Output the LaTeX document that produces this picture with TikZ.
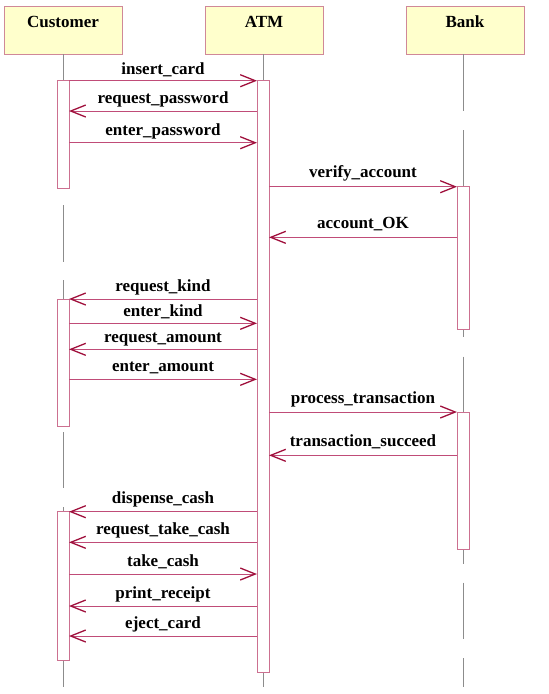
\documentclass[tikz,border=0pt]{standalone}
\usepackage{fontspec}
\setmainfont{Liberation Serif}
\usetikzlibrary{arrows.meta}
\definecolor{boxfill}{HTML}{FFFFCC}
\definecolor{boxline}{HTML}{D08898}
\definecolor{actline}{HTML}{CC7090}
\definecolor{msgline}{HTML}{C04C78}
\definecolor{msghead}{HTML}{A0103C}
\definecolor{lifegray}{HTML}{8C8C8C}
\tikzset{
  actor/.style={draw=boxline, fill=boxfill, line width=1pt, minimum width=118pt, minimum height=48pt, inner sep=0pt, outer sep=0pt},
  actortext/.style={font=\fontsize{17}{19}\selectfont\bfseries, anchor=base},
  act/.style={draw=actline, fill=white, line width=1pt, minimum width=12pt, inner sep=0pt, outer sep=0pt},
  life/.style={draw=lifegray, line width=1pt},
  msg/.style={draw=msgline, line width=1pt, -{Straight Barb[length=15pt,width=12pt,line width=1.3pt,color=msghead]}},
  lbl/.style={font=\fontsize{17}{19}\selectfont\bfseries, anchor=base, inner sep=0pt}
}
\begin{document}
\begin{tikzpicture}[x=1pt,y=-1pt]
\useasboundingbox (0,0) rectangle (549,694);
% actors
\node[actor] (cust) at (63,30) {};
\node[actor] (atm) at (264,30) {};
\node[actor] (bank) at (465,30) {};
\node[actortext] (custT) at (63,27) {Customer};
\node[actortext] (atmT) at (264,27) {ATM};
\node[actortext] (bankT) at (465,27) {Bank};
% lifeline coordinates
\foreach \n/\x in {c/63, a/263, b/463}{
  \coordinate (\n top) at (\x,54);
  \coordinate (\n bot) at (\x,686.7);
}
% lifelines (with gaps)
\draw[life] (ctop) -- (63,80.7);
\draw[life] (63,205) -- (63,261.7);
\draw[life] (63,280) -- (63,299);
\draw[life] (63,432.3) -- (63,488.3);
\draw[life] (63,507.3) -- (63,511.7);
\draw[life] (63,660) -- (cbot);
\draw[life] (atop) -- (263,80.7);
\draw[life] (263,672.7) -- (abot);
\draw[life] (btop) -- (463,111);
\draw[life] (463,130) -- (463,186.7);
\draw[life] (463,329) -- (463,337);
\draw[life] (463,356.7) -- (463,412);
\draw[life] (463,549.3) -- (463,564);
\draw[life] (463,582.7) -- (463,639.3);
\draw[life] (463,658.3) -- (bbot);
% activations
\node[act, minimum height=107.6pt] (C1) at (63,134.5) {};
\node[act, minimum height=127.7pt] (C2) at (63,362.85) {};
\node[act, minimum height=148.3pt] (C3) at (63,585.85) {};
\node[act, minimum height=592pt] (A1) at (263,376.7) {};
\node[act, minimum height=142.3pt] (B1) at (463,257.85) {};
\node[act, minimum height=137.3pt] (B2) at (463,480.65) {};
% messages
\draw[msg] (C1.east |- 0,80.7) -- node[lbl, yshift=6pt] (m1) {insert\_card} (A1.west |- 0,80.7);
\draw[msg] (A1.west |- 0,111) -- node[lbl, yshift=8pt] (m2) {request\_password} (C1.east |- 0,111);
\draw[msg] (C1.east |- 0,142.7) -- node[lbl, yshift=7pt] (m3) {enter\_password} (A1.west |- 0,142.7);
\draw[msg] (A1.east |- 0,186.7) -- node[lbl, yshift=9pt] (m4) {verify\_account} (B1.west |- 0,186.7);
\draw[msg] (B1.west |- 0,237.3) -- node[lbl, yshift=9pt] (m5) {account\_OK} (A1.east |- 0,237.3);
\draw[msg] (A1.west |- 0,299) -- node[lbl, yshift=8pt] (m6) {request\_kind} (C2.east |- 0,299);
\draw[msg] (C2.east |- 0,323.3) -- node[lbl, yshift=7pt] (m7) {enter\_kind} (A1.west |- 0,323.3);
\draw[msg] (A1.west |- 0,349.3) -- node[lbl, yshift=7pt] (m8) {request\_amount} (C2.east |- 0,349.3);
\draw[msg] (C2.east |- 0,379.3) -- node[lbl, yshift=8pt] (m9) {enter\_amount} (A1.west |- 0,379.3);
\draw[msg] (A1.east |- 0,412) -- node[lbl, yshift=9pt] (m10) {process\_transaction} (B2.west |- 0,412);
\draw[msg] (B2.west |- 0,455.3) -- node[lbl, yshift=9pt] (m11) {transaction\_succeed} (A1.east |- 0,455.3);
\draw[msg] (A1.west |- 0,511.7) -- node[lbl, yshift=8pt] (m12) {dispense\_cash} (C3.east |- 0,511.7);
\draw[msg] (A1.west |- 0,542.3) -- node[lbl, yshift=8pt] (m13) {request\_take\_cash} (C3.east |- 0,542.3);
\draw[msg] (C3.east |- 0,574) -- node[lbl, yshift=8pt] (m14) {take\_cash} (A1.west |- 0,574);
\draw[msg] (A1.west |- 0,606) -- node[lbl, yshift=8pt] (m15) {print\_receipt} (C3.east |- 0,606);
\draw[msg] (A1.west |- 0,636) -- node[lbl, yshift=8pt] (m16) {eject\_card} (C3.east |- 0,636);
\end{tikzpicture}
\end{document}
